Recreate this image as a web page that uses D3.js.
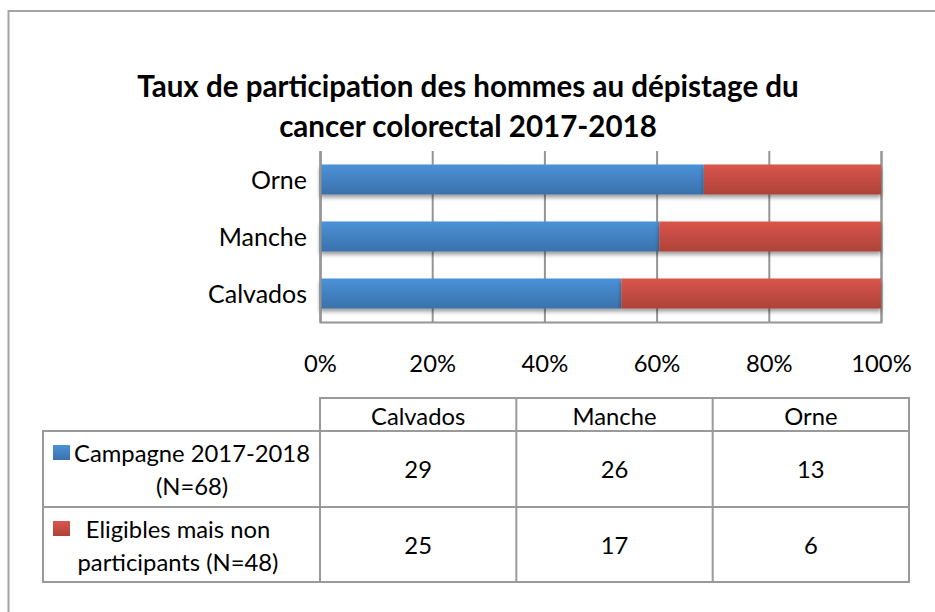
<!DOCTYPE html>
<html>
<head>
<meta charset="utf-8">
<script src="https://cdn.jsdelivr.net/npm/d3@7"></script>
<style>
  body { margin: 0; background: #fff; }
  svg text { font-family: Lato, "Open Sans", sans-serif; fill: #000; }
</style>
</head>
<body>
<svg id="chart" width="935" height="612"></svg>
<script>
// Participation des hommes au dépistage du cancer colorectal, 2017-2018
var titleLines = ["Taux de participation des hommes au dépistage du", "cancer colorectal 2017-2018"];
var regions = ["Calvados", "Manche", "Orne"];
var campagne = [29, 26, 13];
var nonParticipants = [25, 17, 6];
var seriesKeys = ["campagne", "non"];
var seriesLabels = [["Campagne 2017-2018", "(N=68)"], ["Eligibles mais non", "participants (N=48)"]];
var xTicks = [0, 0.2, 0.4, 0.6, 0.8, 1];

var svg = d3.select("#chart");
var gridColor = "#959595";

// fit a font size so that a sample string reaches the target width
function fitSize(text, target, weight) {
  var t = svg.append("text").attr("font-size", 100).attr("font-weight", weight).text(text);
  var w = t.node().getComputedTextLength();
  t.remove();
  return 100 * target / w;
}
var bodySize = fitSize("Campagne 2017-2018", 236, "normal");
var titleSize = fitSize(titleLines[0], 662, "bold");

var defs = svg.append("defs");
function gradient(id, top, bottom) {
  var g = defs.append("linearGradient").attr("id", id)
    .attr("x1", 0).attr("y1", 0).attr("x2", 0).attr("y2", 1);
  g.append("stop").attr("offset", "0%").attr("stop-color", top);
  g.append("stop").attr("offset", "100%").attr("stop-color", bottom);
}
gradient("grad-campagne", "#4b92d8", "#3a71ab");
gradient("grad-non", "#da554c", "#ad4239");
var colors = { campagne: "url(#grad-campagne)", non: "url(#grad-non)" };

defs.append("filter").attr("id", "shadow")
  .attr("x", "-5%").attr("y", "-20%").attr("width", "110%").attr("height", "160%")
  .append("feDropShadow")
  .attr("dx", 0).attr("dy", 3).attr("stdDeviation", 2.2)
  .attr("flood-color", "#000").attr("flood-opacity", 0.4);

// chart area border (top and left only are visible)
svg.append("path")
  .attr("d", "M8.5,612V11H935")
  .attr("fill", "none").attr("stroke", "#a3a3a3").attr("stroke-width", 2);

// title
svg.append("text")
  .attr("text-anchor", "middle")
  .attr("font-weight", "bold")
  .attr("font-size", titleSize)
  .selectAll("tspan")
  .data(titleLines)
  .join("tspan")
  .attr("x", 468)
  .attr("y", function (d, i) { return 97 + i * 40; })
  .text(function (d) { return d; });

// scales
var x = d3.scaleLinear().domain([0, 1]).range([320, 881]);
var y = d3.scaleBand().domain(regions.slice().reverse()).range([151, 322])
  .paddingInner(27 / 57).paddingOuter(13.5 / 57);

// gridlines + percent labels
var xAxis = svg.append("g")
  .attr("transform", "translate(0,322)")
  .call(d3.axisBottom(x).tickValues(xTicks).tickFormat(d3.format(".0%")).tickSize(-171));
xAxis.select(".domain").attr("stroke", gridColor).attr("stroke-width", 2);
xAxis.selectAll(".tick line").attr("stroke", gridColor).attr("stroke-width", 2);
xAxis.selectAll(".tick text")
  .attr("y", 50).attr("dy", 0)
  .attr("font-size", bodySize)
  .style("font-family", "Lato, sans-serif").attr("fill", "#000");

// stacked 100% bars
var rows = regions.map(function (r, i) {
  return { region: r, campagne: campagne[i], non: nonParticipants[i] };
});
var stacked = d3.stack().keys(seriesKeys).offset(d3.stackOffsetExpand)(rows);

svg.append("g")
  .selectAll("g")
  .data(stacked)
  .join("g")
  .attr("fill", function (s) { return colors[s.key]; })
  .attr("filter", "url(#shadow)")
  .selectAll("rect")
  .data(function (s) { return s; })
  .join("rect")
  .attr("x", function (d) { return x(d[0]); })
  .attr("width", function (d) { return x(d[1]) - x(d[0]); })
  .attr("y", function (d) { return y(d.data.region); })
  .attr("height", y.bandwidth());

// category axis
var yAxis = svg.append("g")
  .attr("transform", "translate(320,0)")
  .call(d3.axisLeft(y).tickSize(0).tickPadding(13));
yAxis.select(".domain").attr("stroke", gridColor).attr("stroke-width", 2);
yAxis.selectAll(".tick text")
  .attr("font-size", bodySize * 1.05).attr("dy", "0.38em")
  .style("font-family", "Lato, sans-serif").attr("fill", "#000");

// data table
var col = d3.scaleBand().domain(regions).range([320, 909]);
var rowTops = [431, 507];
var rowH = 76;
var table = svg.append("g")
  .attr("fill", "none").attr("stroke", "#9a9a9a").attr("stroke-width", 2);

table.append("rect").attr("x", 320).attr("y", 398).attr("width", 589).attr("height", 33);
table.append("rect").attr("x", 43).attr("y", 431).attr("width", 866).attr("height", 151);
table.append("line").attr("x1", 43).attr("x2", 909).attr("y1", 507).attr("y2", 507);
table.selectAll("line.col")
  .data(regions)
  .join("line")
  .attr("class", "col")
  .attr("x1", function (d) { return col(d); })
  .attr("x2", function (d) { return col(d); })
  .attr("y1", 398).attr("y2", 582);

var labels = svg.append("g").attr("font-size", bodySize).attr("text-anchor", "middle");

// header row
labels.selectAll("text.head")
  .data(regions)
  .join("text")
  .attr("class", "head")
  .attr("x", function (d) { return col(d) + col.bandwidth() / 2; })
  .attr("y", 425)
  .text(function (d) { return d; });

// value cells
var values = { campagne: campagne, non: nonParticipants };
seriesKeys.forEach(function (key, si) {
  labels.selectAll("text.v" + si)
    .data(values[key])
    .join("text")
    .attr("class", "v" + si)
    .attr("x", function (d, i) { return col(regions[i]) + col.bandwidth() / 2; })
    .attr("y", rowTops[si] + rowH / 2 + bodySize * 0.36)
    .text(function (d) { return d; });
});

// series labels with legend keys
var legendCenters = [192, 178];
seriesLabels.forEach(function (lines, si) {
  svg.append("rect")
    .attr("x", 53).attr("y", rowTops[si] + 14)
    .attr("width", 17).attr("height", 15)
    .attr("fill", colors[seriesKeys[si]]);
  labels.append("text")
    .selectAll("tspan")
    .data(lines)
    .join("tspan")
    .attr("x", legendCenters[si])
    .attr("y", function (d, i) { return rowTops[si] + 31 + i * 33; })
    .text(function (d) { return d; });
});
</script>
</body>
</html>
